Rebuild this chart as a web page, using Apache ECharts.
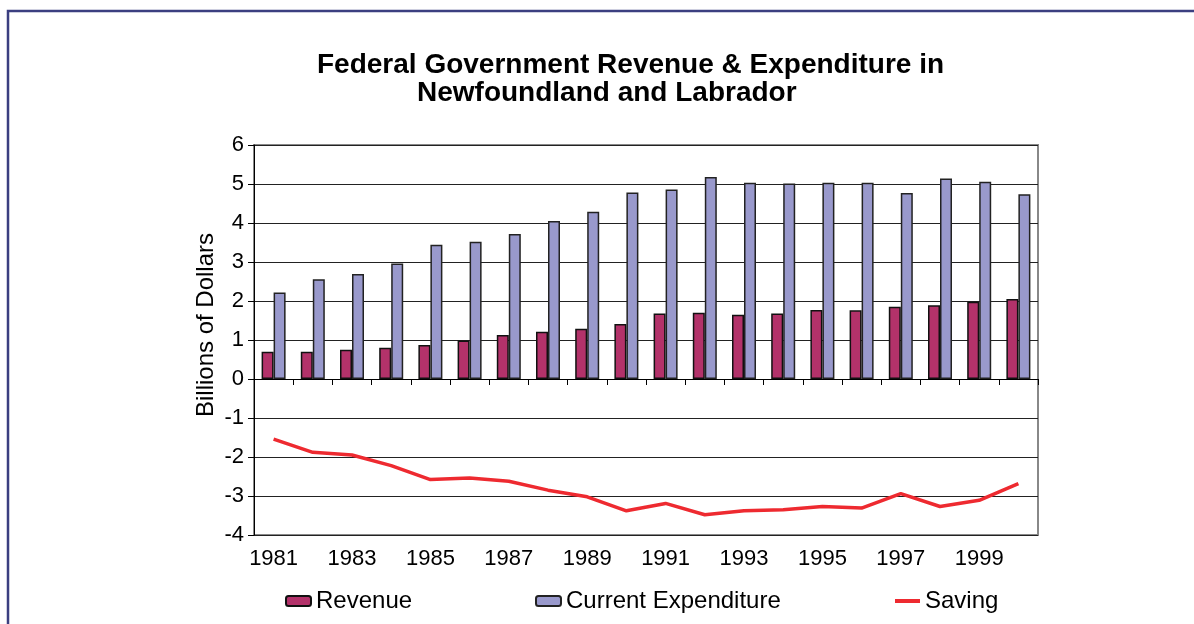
<!DOCTYPE html>
<html>
<head>
<meta charset="utf-8">
<title>Federal Government Revenue & Expenditure in Newfoundland and Labrador</title>
<script src="https://cdn.jsdelivr.net/npm/echarts@6/dist/echarts.min.js"></script>
<style>
  html, body { margin: 0; padding: 0; background: #fff; }
  #chart { width: 1194px; height: 624px; }
</style>
</head>
<body>
<div id="chart"></div>
<script>
// data (billions of dollars)
var years = ["1981", "1982", "1983", "1984", "1985", "1986", "1987", "1988", "1989", "1990",
             "1991", "1992", "1993", "1994", "1995", "1996", "1997", "1998", "1999", "2000"];
var revenue = [0.70, 0.70, 0.75, 0.80, 0.87, 0.99, 1.13, 1.21, 1.29, 1.41,
               1.68, 1.70, 1.65, 1.68, 1.77, 1.76, 1.85, 1.89, 1.98, 2.05];
var expenditure = [2.22, 2.56, 2.69, 2.96, 3.44, 3.52, 3.72, 4.05, 4.29, 4.78,
                   4.86, 5.18, 5.03, 5.01, 5.03, 5.03, 4.77, 5.14, 5.06, 4.74];
var saving = [-1.54, -1.88, -1.95, -2.22, -2.58, -2.54, -2.62, -2.85, -3.02, -3.38,
              -3.19, -3.48, -3.38, -3.35, -3.27, -3.31, -2.94, -3.27, -3.11, -2.68];

var font = "'Liberation Sans', Arial, sans-serif";
var myChart = echarts.init(document.getElementById("chart"));

var option = {
  animation: false,
  //two-line title, each line placed on its own like the original
  title: [
    {
      text: "Federal Government Revenue & Expenditure in",
      left: 312,
      top: 46,
      textStyle: { fontFamily: font, fontSize: 28, fontWeight: "bold", color: "#000" }
    },
    {
      text: "Newfoundland and Labrador",
      left: 412,
      top: 74,
      textStyle: { fontFamily: font, fontSize: 28, fontWeight: "bold", color: "#000" }
    }
  ],
  //one legend per item so the gaps match
  legend: [
    {
      data: ["Revenue"], left: 280, top: 584, itemWidth: 25, itemHeight: 10,
      textStyle: { fontFamily: font, fontSize: 24, color: "#000" }
    },
    {
      data: ["Current Expenditure"], left: 530, top: 584, itemWidth: 25, itemHeight: 10,
      textStyle: { fontFamily: font, fontSize: 24, color: "#000" }
    },
    {
      data: [{ name: "Saving", icon: "rect" }], left: 890, top: 584, itemWidth: 25, itemHeight: 4,
      textStyle: { fontFamily: font, fontSize: 24, color: "#000" }
    }
  ],
  grid: {
    left: 254,
    top: 145,
    right: 156,
    bottom: 89,
    show: true,
    borderColor: "#888",
    borderWidth: 2
  },
  xAxis: [
    {
      //labels along the bottom
      type: "category",
      data: years,
      position: "bottom",
      axisLine: { show: false, onZero: false },
      axisTick: { show: false },
      axisLabel: {
        interval: 1,
        margin: 13,
        fontFamily: font,
        fontSize: 22,
        color: "#000"
      }
    },
    {
      //the zero line with its ticks
      type: "category",
      data: years,
      position: "bottom",
      axisLine: { show: true, onZero: true, lineStyle: { color: "#000", width: 1 } },
      axisTick: { show: true, interval: 0, length: 6, lineStyle: { color: "#000" } },
      axisLabel: { show: false }
    }
  ],
  yAxis: {
    type: "value",
    min: -4,
    max: 6,
    interval: 1,
    axisLine: { show: true, lineStyle: { color: "#000", width: 1 } },
    axisTick: { show: true, length: 6, lineStyle: { color: "#000" } },
    axisLabel: { margin: 10, fontFamily: font, fontSize: 22, color: "#000" },
    splitLine: { show: true, lineStyle: { color: "#222", width: 1 } }
  },
  series: [
    {
      name: "Revenue",
      type: "bar",
      xAxisIndex: 0,
      barWidth: 12,
      barGap: "0%",
      itemStyle: { color: "#B3326A", borderColor: "#111", borderWidth: 1.5 },
      data: revenue
    },
    {
      name: "Current Expenditure",
      type: "bar",
      xAxisIndex: 0,
      barWidth: 12,
      barGap: "0%",
      itemStyle: { color: "#9999CC", borderColor: "#222", borderWidth: 1.5 },
      data: expenditure
    },
    {
      name: "Saving",
      type: "line",
      xAxisIndex: 0,
      symbol: "none",
      lineStyle: { color: "#EE2A30", width: 3.5 },
      itemStyle: { color: "#EE2A30" },
      data: saving
    }
  ],
  graphic: [
    {
      //outer frame, running past the right and bottom edges
      type: "rect",
      silent: true,
      shape: { x: 8, y: 11, width: 1300, height: 700 },
      style: { fill: "none", stroke: "#3B3F80", lineWidth: 2.5 }
    },
    {
      //y axis title
      type: "text",
      silent: true,
      x: 206,
      y: 325,
      rotation: Math.PI / 2,
      style: {
        text: "Billions of Dollars",
        fontFamily: font,
        fontSize: 24,
        fill: "#000",
        align: "center",
        verticalAlign: "middle"
      }
    }
  ]
};

myChart.setOption(option);
</script>
</body>
</html>
